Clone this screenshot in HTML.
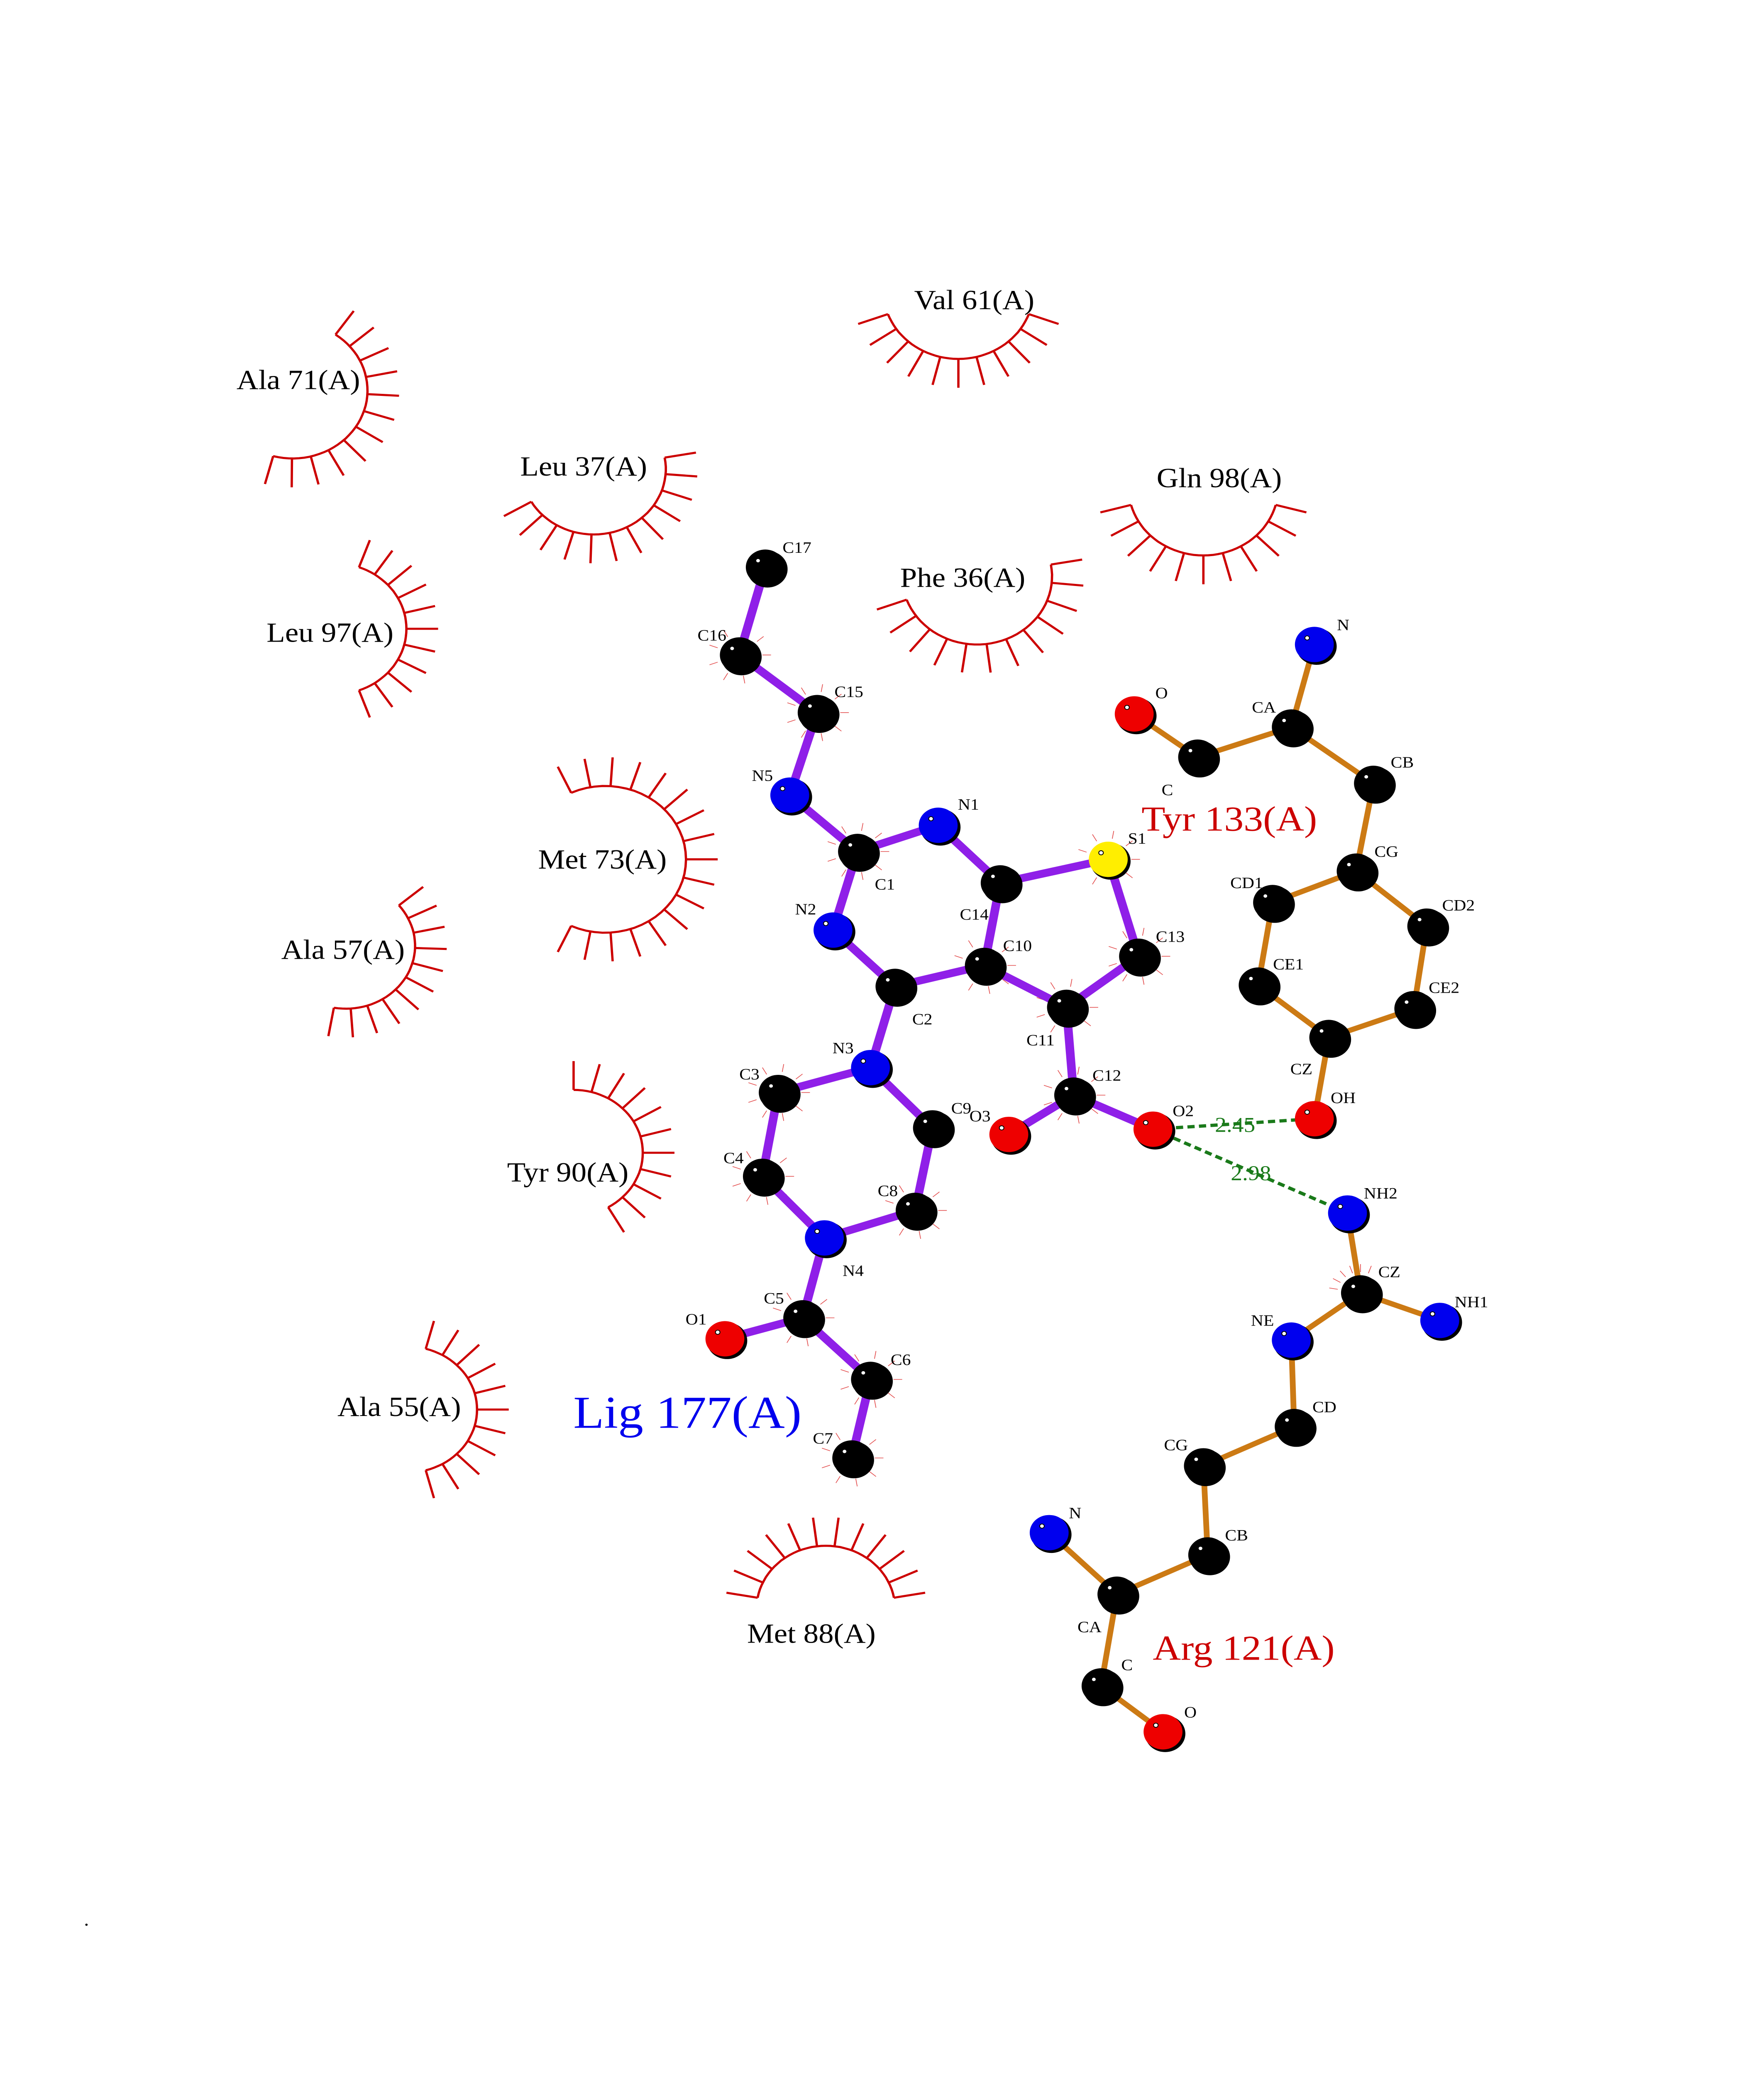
<!DOCTYPE html>
<html><head><meta charset="utf-8"><style>
html,body{margin:0;padding:0;background:#fff;width:100vw;height:100vh;overflow:hidden;}
svg{display:block;width:100vw;height:100vh;}
</style></head><body>
<svg id="s" xmlns="http://www.w3.org/2000/svg" viewBox="0 0 1224 1584" preserveAspectRatio="none">
<rect width="1224" height="1584" fill="#fff"/>
<g id="arcs" stroke="#cc0000" fill="none" stroke-width="1.6"></g>
<g id="spk" stroke="#dd2222" stroke-width="0.5" opacity="0.8"></g>
<g id="bonds" stroke-linecap="round"></g>
<g id="hb" stroke="#1a7a1a" stroke-width="2.5" stroke-dasharray="5,3"></g>
<g id="atoms"></g>
<g id="txt" font-family="Liberation Serif, serif"></g>
</svg>
<script>
var NS="http://www.w3.org/2000/svg";
function el(p,t,a,txt){var e=document.createElementNS(NS,t);for(var k in a)e.setAttribute(k,a[k]);if(txt!=null)e.textContent=txt;document.getElementById(p).appendChild(e);return e;}
var A={C17:[531,433],C16:[513,500],C15:[567,544],N5:[548,607],C1:[595,650],N1:[651,630],N2:[578,710],C2:[621,753],C14:[694,674],S1:[769,656],C10:[683,737],C13:[790,730],C11:[740,769],C12:[745,836],O3:[700,866],O2:[800,862],N3:[604,815],C3:[540,834],C4:[529,898],N4:[572,945],C8:[635,924],C9:[647,861],C5:[557,1006],O1:[503,1022],C6:[604,1053],C7:[591,1113]};
var T={N:[912,492],CA:[896,555],O:[787,545],C:[831,578],CB:[953,598],CG:[941,665],CD1:[883,689],CD2:[990,707],CE1:[873,752],CE2:[981,770],CZ:[922,792],OH:[912,854]};
var R={NH2:[935,926],CZ:[944,987],NH1:[999,1008],NE:[896,1023],CD:[898,1089],CG:[835,1119],CB:[838,1187],CA:[775,1217],N:[728,1170],C:[764,1287],O:[807,1322]};
var LB="C17-C16 C16-C15 C15-N5 N5-C1 C1-N1 N1-C14 C1-N2 N2-C2 C2-C10 C10-C14 C14-S1 S1-C13 C13-C11 C11-C10 C11-C12 C12-O3 C12-O2 C2-N3 N3-C3 C3-C4 C4-N4 N4-C8 C8-C9 C9-N3 N4-C5 C5-O1 C5-C6 C6-C7";
var TB="N-CA CA-C C-O CA-CB CB-CG CG-CD1 CG-CD2 CD1-CE1 CD2-CE2 CE1-CZ CE2-CZ CZ-OH";
var RB="NH2-CZ CZ-NH1 CZ-NE NE-CD CD-CG CG-CB CB-CA CA-N CA-C C-O";
function bonds(M,s,col,w){s.split(" ").forEach(function(b){var p=b.split("-");var a=M[p[0]],c=M[p[1]];el("bonds","line",{x1:a[0],y1:a[1],x2:c[0],y2:c[1],stroke:col,"stroke-width":w});});}
bonds(A,LB,"#8f1fe8",6);bonds(T,TB,"#cc7a14",4);bonds(R,RB,"#cc7a14",4);
el("hb","line",{x1:800,y1:862,x2:912,y2:854});
el("hb","line",{x1:800,y1:862,x2:935,y2:926});
function col(n){if(n[0]=="N")return "#0000ee";if(n[0]=="O")return "#ee0000";if(n[0]=="S")return "#ffee00";return "#000";}
function atoms(M){for(var k in M){var p=M[k];el("atoms","circle",{cx:p[0]+1.5,cy:p[1]+1.5,r:14,fill:"#000"});el("atoms","circle",{cx:p[0],cy:p[1],r:13.5,fill:col(k)});el("atoms","circle",{cx:p[0]-5,cy:p[1]-5,r:1.6,fill:"#fff",stroke:"#000","stroke-width":0.6});}}
atoms(A);atoms(T);atoms(R);
["C16","C15","C1","S1","C13","C10","C11","C12","C3","C4","C8","C5","C6","C7"].forEach(function(k){var p=A[k];for(var i=0;i<9;i++){var a=(i*40+200)*Math.PI/180;el("spk","line",{x1:p[0]+16*Math.cos(a),y1:p[1]+16*Math.sin(a),x2:p[0]+22*Math.cos(a),y2:p[1]+22*Math.sin(a)});}});
(function(){var p=R.CZ;for(var i=0;i<6;i++){var a=(190+i*20)*Math.PI/180;el("spk","line",{x1:p[0]+16*Math.cos(a),y1:p[1]+16*Math.sin(a),x2:p[0]+22*Math.cos(a),y2:p[1]+22*Math.sin(a)});}})();
function arc(cx,cy,r,a0,a1,n){var d="";for(var i=0;i<=40;i++){var a=(a0+(a1-a0)*i/40)*Math.PI/180;d+=(i?"L":"M")+(cx+r*Math.cos(a)).toFixed(1)+" "+(cy+r*Math.sin(a)).toFixed(1);}el("arcs","path",{d:d});for(var j=0;j<n;j++){var a=(a0+(a1-a0)*j/(n-1))*Math.PI/180;el("arcs","line",{x1:cx+r*Math.cos(a),y1:cy+r*Math.sin(a),x2:cx+(r+22)*Math.cos(a),y2:cy+(r+22)*Math.sin(a)});}}
arc(665,222,52,20,160,11);
arc(203,298,52,-55,105,12);
arc(412,358,50,-10,150,12);
arc(835,372,52,15,165,11);
arc(232,480,50,-70,70,11);
arc(678,440,52,-10,160,12);
arc(420,656,56,-115,115,17);
arc(240,722,48,-40,100,11);
arc(398,880,48,-90,60,11);
arc(283,1076,48,-75,75,11);
arc(573,1228,48,190,350,12);
function t(x,y,s,sz,c,anc){el("txt","text",{x:x,y:y,"font-size":sz,fill:c||"#000","text-anchor":anc||"middle"},s);}
[["Val 61(A)",676,236],["Ala 71(A)",207,297],["Leu 37(A)",405,363],["Gln 98(A)",846,372],["Leu 97(A)",229,490],["Phe 36(A)",668,448],["Met 73(A)",418,663],["Ala 57(A)",238,732],["Tyr 90(A)",394,902],["Ala 55(A)",277,1081],["Met 88(A)",563,1254]].forEach(function(a){t(a[1],a[2],a[0],21);});
t(853,634,"Tyr 133(A)",27,"#cc0000");
t(863,1267,"Arg 121(A)",27,"#cc0000");
t(477,1090,"Lig 177(A)",35,"#0000ee");
t(857,864,"2.45",16,"#1a7a1a");t(868,901,"2.98",16,"#1a7a1a");
var L=[["C17",553,418],["C16",494,485],["C15",589,528],["N5",529,592],["C1",614,675],["N1",672,614],["N2",559,694],["C2",640,778],["C14",676,698],["S1",789,640],["C10",706,722],["C13",812,715],["C11",722,794],["C12",768,821],["O3",680,852],["O2",821,848],["N3",585,800],["C3",520,820],["C4",509,884],["N4",592,970],["C8",616,909],["C9",667,846],["C5",537,991],["O1",483,1007],["C6",625,1038],["C7",571,1098],
["N",932,477],["CA",877,540],["O",806,529],["C",810,603],["CB",973,582],["CG",962,650],["CD1",865,674],["CD2",1012,691],["CE1",894,736],["CE2",1002,754],["CZ",903,816],["OH",932,838],
["NH2",958,911],["CZ",964,971],["NH1",1021,994],["NE",876,1008],["CD",919,1074],["CG",816,1103],["CB",858,1172],["CA",756,1242],["N",746,1155],["C",782,1271],["O",826,1307]];
L.forEach(function(a){t(a[1],a[2]+4,a[0],12);});
t(60,1470,".",14);
</script>
</body></html>
